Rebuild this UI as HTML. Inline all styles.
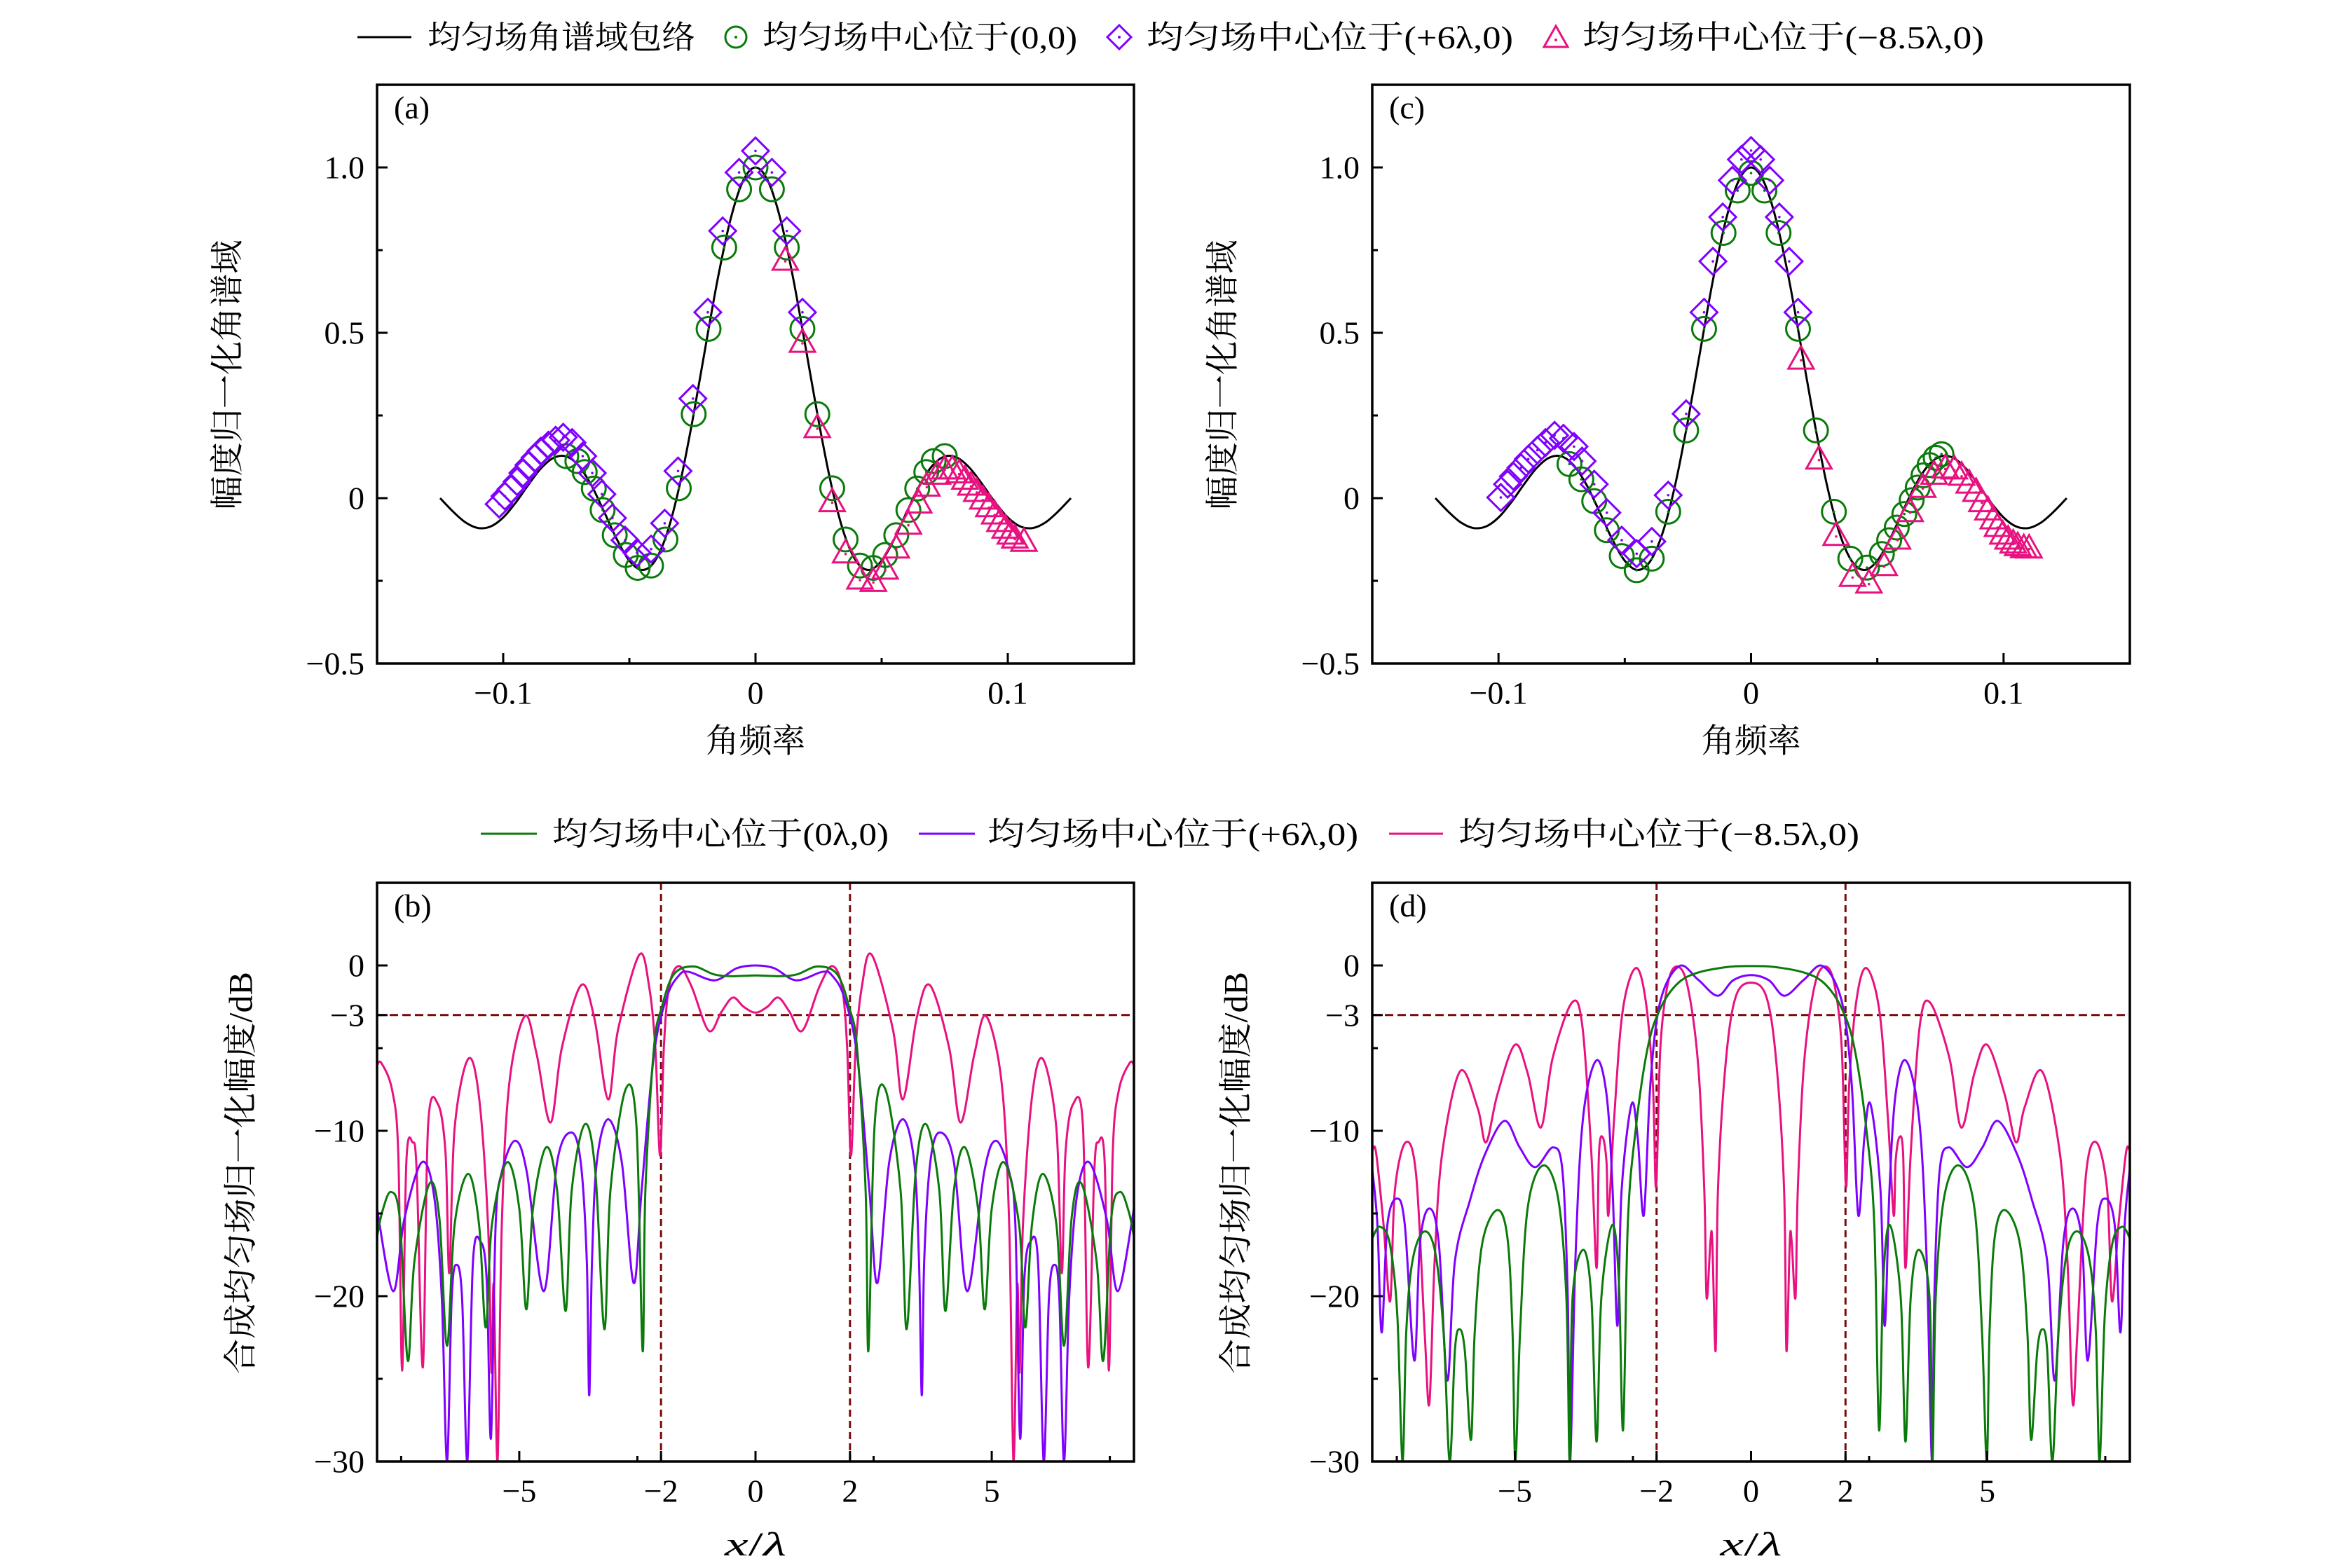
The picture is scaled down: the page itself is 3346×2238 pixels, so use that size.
<!DOCTYPE html>
<html><head><meta charset="utf-8"><style>
html,body{margin:0;padding:0;background:#fff;}
svg{display:block;}
text{font-family:"Liberation Serif","Noto Serif CJK SC","Noto Sans CJK SC",serif;fill:#000;}
</style></head><body>
<svg id="fig" xmlns="http://www.w3.org/2000/svg" width="3346" height="2238" viewBox="0 0 3346 2238">
<rect width="3346" height="2238" fill="#fff"/>
<g>
  <line x1="510" y1="53" x2="587" y2="53" stroke="#000" stroke-width="3"/>
  <text x="610" y="69" font-size="46" textLength="382" lengthAdjust="spacingAndGlyphs">均匀场角谱域包络</text>
  <circle cx="1050" cy="53" r="15" fill="none" stroke="#0a7a0a" stroke-width="3"/><circle cx="1050" cy="53" r="2" fill="#0a7a0a"/>
  <text x="1088" y="69" font-size="46" textLength="449" lengthAdjust="spacingAndGlyphs">均匀场中心位于(0,0)</text>
  <path d="M1597 36 L1614 53 L1597 70 L1580 53 Z" fill="none" stroke="#7f00ff" stroke-width="3"/><circle cx="1597" cy="53" r="2" fill="#7f00ff"/>
  <text x="1636" y="69" font-size="46" textLength="523" lengthAdjust="spacingAndGlyphs">均匀场中心位于(+6λ,0)</text>
  <path d="M2220 37 L2237 67 L2203 67 Z" fill="none" stroke="#e8117f" stroke-width="3"/><circle cx="2220" cy="57" r="2" fill="#e8117f"/>
  <text x="2258" y="69" font-size="46" textLength="573" lengthAdjust="spacingAndGlyphs">均匀场中心位于(−8.5λ,0)</text>
</g>
<g>
  <line x1="686" y1="1190" x2="766" y2="1190" stroke="#0a7a0a" stroke-width="3"/>
  <text x="788" y="1206" font-size="46" textLength="480" lengthAdjust="spacingAndGlyphs">均匀场中心位于(0λ,0)</text>
  <line x1="1311" y1="1190" x2="1391" y2="1190" stroke="#7f00ff" stroke-width="3"/>
  <text x="1409" y="1206" font-size="46" textLength="529" lengthAdjust="spacingAndGlyphs">均匀场中心位于(+6λ,0)</text>
  <line x1="1982" y1="1190" x2="2059" y2="1190" stroke="#e8117f" stroke-width="3"/>
  <text x="2081" y="1206" font-size="46" textLength="572" lengthAdjust="spacingAndGlyphs">均匀场中心位于(−8.5λ,0)</text>
</g>
</svg>
<script>
// ---------- data ----------
const envX = [-0.125,-0.12,-0.115,-0.11,-0.105,-0.1,-0.095,-0.09,-0.085,-0.08,-0.075,-0.07,-0.065,-0.06,-0.055,-0.05,-0.045,-0.04,-0.035,-0.03,-0.025,-0.02,-0.015,-0.01,-0.005,0,0.005,0.01,0.015,0.02,0.025,0.03,0.035,0.04,0.045,0.05,0.055,0.06,0.065,0.07,0.075,0.08,0.085,0.09,0.095,0.1,0.105,0.11,0.115,0.12,0.125];
const envY = [0,-0.0399,-0.073,-0.0902,-0.0857,-0.0585,-0.0131,0.0407,0.0902,0.1221,0.1261,0.0973,0.0381,-0.0412,-0.1238,-0.1892,-0.2171,-0.1916,-0.1046,0.0415,0.234,0.45,0.662,0.84,0.958,1,0.958,0.84,0.662,0.45,0.234,0.0415,-0.1046,-0.1916,-0.2171,-0.1892,-0.1238,-0.0412,0.0381,0.0973,0.1261,0.1221,0.0902,0.0407,-0.0131,-0.0585,-0.0857,-0.0902,-0.073,-0.0399,0];

const aGreen = [[-0.075,0.127],[-0.0706,0.112],[-0.0677,0.079],[-0.0641,0.029],[-0.0606,-0.036],[-0.0558,-0.112],[-0.0514,-0.172],[-0.0467,-0.211],[-0.0414,-0.204],[-0.0357,-0.125],[-0.0304,0.03],[-0.0245,0.254],[-0.0186,0.512],[-0.0124,0.758],[-0.0065,0.934],[0,1.0],[0.0065,0.934],[0.0124,0.758],[0.0186,0.512],[0.0245,0.254],[0.0304,0.03],[0.0357,-0.125],[0.0414,-0.204],[0.0467,-0.211],[0.0514,-0.172],[0.0558,-0.112],[0.0606,-0.036],[0.0641,0.029],[0.0677,0.079],[0.0706,0.112],[0.075,0.127]];
const aPurple = [[-0.1016,-0.018],[-0.0993,0.006],[-0.0969,0.027],[-0.0945,0.05],[-0.0922,0.076],[-0.0898,0.1],[-0.0874,0.122],[-0.0851,0.142],[-0.0821,0.16],[-0.0792,0.175],[-0.0762,0.184],[-0.0727,0.168],[-0.0685,0.127],[-0.0647,0.076],[-0.0609,0.012],[-0.0567,-0.06],[-0.0517,-0.127],[-0.047,-0.165],[-0.0414,-0.154],[-0.036,-0.076],[-0.0307,0.082],[-0.0248,0.301],[-0.0189,0.562],[-0.013,0.808],[-0.0065,0.985],[0,1.05],[0.0065,0.985],[0.0124,0.808],[0.0186,0.562]];
const aPink = [[0.0118,0.716],[0.0186,0.468],[0.0245,0.21],[0.0304,-0.014],[0.0357,-0.169],[0.0414,-0.248],[0.0467,-0.255],[0.0514,-0.218],[0.0558,-0.154],[0.0606,-0.082],[0.0647,-0.018],[0.0679,0.033],[0.0721,0.069],[0.075,0.085],[0.078,0.085],[0.0807,0.073],[0.083,0.054],[0.0854,0.036],[0.0877,0.017],[0.0901,-0.006],[0.0925,-0.029],[0.0948,-0.051],[0.0969,-0.074],[0.099,-0.094],[0.101,-0.112],[0.1028,-0.124],[0.1064,-0.134]];

const cGreen = [[-0.0719,0.103],[-0.0672,0.057],[-0.0621,-0.009],[-0.0571,-0.097],[-0.0512,-0.175],[-0.0453,-0.218],[-0.0393,-0.183],[-0.0328,-0.041],[-0.0257,0.205],[-0.0186,0.512],[-0.0109,0.802],[-0.0053,0.93],[0,0.983],[0.0053,0.93],[0.0109,0.802],[0.0186,0.512],[0.0257,0.205],[0.0328,-0.041],[0.0393,-0.183],[0.0459,-0.21],[0.0518,-0.169],[0.0547,-0.127],[0.0577,-0.089],[0.0607,-0.048],[0.0636,-0.006],[0.066,0.032],[0.0683,0.069],[0.0707,0.1],[0.0731,0.122],[0.0754,0.133]];
const cPurple = [[-0.0991,0.002],[-0.0964,0.042],[-0.0941,0.066],[-0.0911,0.092],[-0.0882,0.118],[-0.0846,0.145],[-0.0814,0.168],[-0.0778,0.19],[-0.0743,0.181],[-0.0701,0.156],[-0.0669,0.112],[-0.0621,0.042],[-0.0571,-0.044],[-0.0512,-0.127],[-0.0453,-0.168],[-0.0393,-0.131],[-0.0328,0.009],[-0.0257,0.255],[-0.0186,0.562],[-0.0151,0.716],[-0.0112,0.85],[-0.0074,0.961],[-0.0038,1.024],[0,1.051],[0.0038,1.024],[0.0074,0.961],[0.0112,0.85],[0.0151,0.716],[0.0186,0.562]];
const cPink = [[0.0198,0.417],[0.0269,0.115],[0.0337,-0.116],[0.0402,-0.24],[0.0467,-0.26],[0.0527,-0.207],[0.058,-0.127],[0.063,-0.044],[0.068,0.029],[0.0725,0.069],[0.0769,0.088],[0.0805,0.085],[0.0834,0.066],[0.0864,0.042],[0.0891,0.017],[0.0914,-0.014],[0.0938,-0.039],[0.0959,-0.066],[0.0976,-0.089],[0.0997,-0.112],[0.1018,-0.127],[0.1038,-0.139],[0.1056,-0.147],[0.108,-0.153],[0.1101,-0.154]];

const bGreen = [[-8.01,-16.4],[-7.9,-14.9],[-7.72,-13.7],[-7.53,-15.3],[-7.36,-23.9],[-7.22,-17.9],[-6.9,-13.2],[-6.69,-15.3],[-6.53,-23.0],[-6.37,-15.7],[-6.08,-12.6],[-5.85,-15.7],[-5.71,-21.9],[-5.58,-15.7],[-5.26,-11.9],[-5.0,-14.7],[-4.85,-20.8],[-4.71,-14.7],[-4.43,-11.0],[-4.2,-13.6],[-4.02,-20.9],[-3.89,-13.6],[-3.61,-9.6],[-3.39,-12.5],[-3.2,-22.0],[-3.07,-13.6],[-2.75,-7.5],[-2.52,-9.7],[-2.39,-23.3],[-2.33,-13.6],[-2.15,-5.0],[-1.99,-2.6],[-1.73,-0.54],[-1.32,-0.06],[-0.88,-0.54],[-0.51,-0.65],[0,-0.6],[0.51,-0.65],[0.88,-0.54],[1.32,-0.06],[1.73,-0.54],[1.99,-2.6],[2.15,-5.0],[2.33,-13.6],[2.39,-23.3],[2.52,-9.7],[2.75,-7.5],[3.07,-13.6],[3.2,-22.0],[3.39,-12.5],[3.61,-9.6],[3.89,-13.6],[4.02,-20.9],[4.2,-13.6],[4.43,-11.0],[4.71,-14.7],[4.85,-20.8],[5.0,-14.7],[5.26,-11.9],[5.58,-15.7],[5.71,-21.9],[5.85,-15.7],[6.08,-12.6],[6.37,-15.7],[6.53,-23.0],[6.69,-15.3],[6.9,-13.2],[7.22,-17.9],[7.36,-23.9],[7.53,-15.3],[7.72,-13.7],[7.9,-14.9],[8.01,-16.4]];
const bPurple = [[-8.01,-14.7],[-7.67,-19.7],[-7.43,-15.3],[-7.06,-11.9],[-6.8,-14.0],[-6.64,-20.1],[-6.53,-30],[-6.43,-20.1],[-6.33,-18.1],[-6.21,-20.1],[-6.1,-30],[-5.98,-17.9],[-5.82,-16.7],[-5.69,-19.0],[-5.6,-28.6],[-5.5,-15.7],[-5.37,-12.5],[-5.09,-10.6],[-4.84,-12.5],[-4.48,-19.7],[-4.2,-11.9],[-3.9,-10.1],[-3.7,-11.9],[-3.57,-17.9],[-3.52,-26.0],[-3.46,-17.9],[-3.36,-11.9],[-3.12,-9.3],[-2.83,-11.9],[-2.58,-19.2],[-2.41,-13.6],[-2.15,-5.4],[-1.88,-1.94],[-1.62,-0.6],[-1.41,-0.39],[-0.86,-0.9],[-0.4,-0.17],[0,0],[0.4,-0.17],[0.86,-0.9],[1.41,-0.39],[1.62,-0.6],[1.88,-1.94],[2.15,-5.4],[2.41,-13.6],[2.58,-19.2],[2.83,-11.9],[3.12,-9.3],[3.36,-11.9],[3.46,-17.9],[3.52,-26.0],[3.57,-17.9],[3.7,-11.9],[3.9,-10.1],[4.2,-11.9],[4.48,-19.7],[4.84,-12.5],[5.09,-10.6],[5.37,-12.5],[5.5,-15.7],[5.6,-28.6],[5.69,-19.0],[5.82,-16.7],[5.98,-17.9],[6.1,-30],[6.21,-20.1],[6.33,-18.1],[6.43,-20.1],[6.53,-30],[6.64,-20.1],[6.8,-14.0],[7.06,-11.9],[7.43,-15.3],[7.67,-19.7],[8.01,-14.7]];
const bPink = [[-8.01,-6.04],[-7.92,-5.9],[-7.69,-7.55],[-7.56,-11.4],[-7.48,-24.5],[-7.39,-11.9],[-7.26,-10.7],[-7.17,-12.5],[-7.04,-24.3],[-6.93,-9.7],[-6.72,-8.4],[-6.56,-11.4],[-6.48,-18.6],[-6.37,-9.9],[-6.08,-5.65],[-5.85,-8.0],[-5.66,-15.7],[-5.59,-24.6],[-5.54,-19.3],[-5.46,-30],[-5.37,-15.7],[-5.21,-7.1],[-4.88,-3.06],[-4.63,-5.4],[-4.34,-9.5],[-4.1,-5.0],[-3.69,-1.19],[-3.41,-3.2],[-3.12,-8.1],[-2.91,-3.9],[-2.46,0.65],[-2.25,-1.3],[-2.12,-5.0],[-2.02,-11.5],[-1.94,-5.0],[-1.83,-1.3],[-1.62,-0.04],[-1.35,-1.3],[-0.99,-3.95],[-0.72,-2.8],[-0.48,-1.94],[-0.25,-2.5],[0,-2.85],[0.25,-2.5],[0.48,-1.94],[0.72,-2.8],[0.99,-3.95],[1.35,-1.3],[1.62,-0.04],[1.83,-1.3],[1.94,-5.0],[2.02,-11.5],[2.12,-5.0],[2.25,-1.3],[2.46,0.65],[2.91,-3.9],[3.12,-8.1],[3.41,-3.2],[3.69,-1.19],[4.1,-5.0],[4.34,-9.5],[4.63,-5.4],[4.88,-3.06],[5.21,-7.1],[5.37,-15.7],[5.46,-30],[5.54,-19.3],[5.59,-24.6],[5.66,-15.7],[5.85,-8.0],[6.08,-5.65],[6.37,-9.9],[6.48,-18.6],[6.56,-11.4],[6.72,-8.4],[6.93,-9.7],[7.04,-24.3],[7.17,-12.5],[7.26,-10.7],[7.39,-11.9],[7.48,-24.5],[7.56,-11.4],[7.69,-7.55],[7.92,-5.9],[8.01,-6.04]];

const dGreen = [[-8.02,-16.5],[-7.86,-15.8],[-7.65,-16.8],[-7.49,-21.1],[-7.38,-30],[-7.3,-22.2],[-7.17,-17.9],[-6.93,-16.1],[-6.69,-17.3],[-6.51,-22.2],[-6.38,-30],[-6.27,-23.3],[-6.17,-22.0],[-6.06,-23.3],[-5.93,-28.7],[-5.85,-22.2],[-5.69,-16.8],[-5.38,-14.8],[-5.16,-16.4],[-5.05,-22.2],[-4.99,-30],[-4.89,-22.2],[-4.73,-14.7],[-4.41,-12.1],[-4.09,-14.0],[-3.91,-20.1],[-3.84,-30],[-3.78,-20.1],[-3.55,-17.2],[-3.38,-20.1],[-3.27,-28.8],[-3.17,-20.1],[-2.94,-15.7],[-2.8,-19.0],[-2.71,-28.1],[-2.61,-15.7],[-2.45,-10.1],[-2.19,-5.0],[-1.92,-2.6],[-1.55,-1.08],[-1.12,-0.43],[-0.49,-0.09],[0,-0.04],[0.49,-0.09],[1.12,-0.43],[1.55,-1.08],[1.92,-2.6],[2.19,-5.0],[2.45,-10.1],[2.61,-15.7],[2.71,-28.1],[2.8,-19.0],[2.94,-15.7],[3.17,-20.1],[3.27,-28.8],[3.38,-20.1],[3.55,-17.2],[3.78,-20.1],[3.84,-30],[3.91,-20.1],[4.09,-14.0],[4.41,-12.1],[4.73,-14.7],[4.89,-22.2],[4.99,-30],[5.05,-22.2],[5.16,-16.4],[5.38,-14.8],[5.69,-16.8],[5.85,-22.2],[5.93,-28.7],[6.06,-23.3],[6.17,-22.0],[6.27,-23.3],[6.38,-30],[6.51,-22.2],[6.69,-17.3],[6.93,-16.1],[7.17,-17.9],[7.3,-22.2],[7.38,-30],[7.49,-21.1],[7.65,-16.8],[7.86,-15.8],[8.02,-16.5]];
const dPurple = [[-8.02,-12.3],[-7.91,-15.7],[-7.82,-22.2],[-7.7,-15.7],[-7.5,-14.1],[-7.33,-15.7],[-7.13,-23.9],[-7.01,-16.8],[-6.81,-14.7],[-6.61,-16.8],[-6.43,-25.1],[-6.27,-17.9],[-5.95,-14.2],[-5.63,-11.4],[-5.22,-9.4],[-4.9,-11.0],[-4.57,-12.2],[-4.19,-11.0],[-3.99,-12.5],[-3.88,-20.1],[-3.83,-30],[-3.72,-17.9],[-3.56,-9.3],[-3.28,-5.76],[-3.06,-7.8],[-2.93,-13.6],[-2.83,-21.8],[-2.74,-13.6],[-2.53,-8.4],[-2.4,-10.4],[-2.27,-15.1],[-2.13,-7.1],[-1.92,-2.16],[-1.52,-0.04],[-1.12,-0.86],[-0.71,-1.83],[-0.38,-0.9],[0,-0.58],[0.38,-0.9],[0.71,-1.83],[1.12,-0.86],[1.52,-0.04],[1.92,-2.16],[2.13,-7.1],[2.27,-15.1],[2.4,-10.4],[2.53,-8.4],[2.74,-13.6],[2.83,-21.8],[2.93,-13.6],[3.06,-7.8],[3.28,-5.76],[3.56,-9.3],[3.72,-17.9],[3.83,-30],[3.88,-20.1],[3.99,-12.5],[4.19,-11.0],[4.57,-12.2],[4.9,-11.0],[5.22,-9.4],[5.63,-11.4],[5.95,-14.2],[6.27,-17.9],[6.43,-25.1],[6.61,-16.8],[6.81,-14.7],[7.01,-16.8],[7.13,-23.9],[7.33,-15.7],[7.5,-14.1],[7.7,-15.7],[7.82,-22.2],[7.91,-15.7],[8.02,-12.3]];
const dPink = [[-8.02,-11.2],[-7.94,-11.3],[-7.78,-15.7],[-7.64,-20.3],[-7.54,-13.6],[-7.31,-10.7],[-7.09,-12.7],[-6.91,-22.2],[-6.81,-26.5],[-6.7,-17.9],[-6.54,-11.4],[-6.16,-6.4],[-5.79,-8.6],[-5.61,-10.7],[-5.37,-7.8],[-5.0,-4.8],[-4.73,-6.5],[-4.45,-9.8],[-4.2,-5.6],[-3.79,-2.24],[-3.57,-3.7],[-3.38,-11.4],[-3.27,-18.3],[-3.22,-11.4],[-3.14,-10.4],[-3.06,-11.9],[-3.02,-15.1],[-2.9,-9.3],[-2.72,-2.8],[-2.45,-0.17],[-2.24,-1.94],[-2.08,-7.1],[-2.01,-13.4],[-1.92,-5.0],[-1.76,-1.08],[-1.56,-0.06],[-1.34,-1.3],[-1.12,-6.0],[-0.99,-13.6],[-0.94,-20.1],[-0.86,-16.7],[-0.82,-16.7],[-0.75,-23.3],[-0.7,-13.6],[-0.54,-6.0],[-0.33,-1.94],[0,-1.04],[0.33,-1.94],[0.54,-6.0],[0.7,-13.6],[0.75,-23.3],[0.82,-16.7],[0.86,-16.7],[0.94,-20.1],[0.99,-13.6],[1.12,-6.0],[1.34,-1.3],[1.56,-0.06],[1.76,-1.08],[1.92,-5.0],[2.01,-13.4],[2.08,-7.1],[2.24,-1.94],[2.45,-0.17],[2.72,-2.8],[2.9,-9.3],[3.02,-15.1],[3.06,-11.9],[3.14,-10.4],[3.22,-11.4],[3.27,-18.3],[3.38,-11.4],[3.57,-3.7],[3.79,-2.24],[4.2,-5.6],[4.45,-9.8],[4.73,-6.5],[5.0,-4.8],[5.37,-7.8],[5.61,-10.7],[5.79,-8.6],[6.16,-6.4],[6.54,-11.4],[6.7,-17.9],[6.81,-26.5],[6.91,-22.2],[7.09,-12.7],[7.31,-10.7],[7.54,-13.6],[7.64,-20.3],[7.78,-15.7],[7.94,-11.3],[8.02,-11.2]];

const specYTicks = [-0.5,0,0.5,1.0];
const specYTickLabels = ["−0.5","0","0.5","1.0"];
const specYMinor = [-0.25,0.25,0.75];
const specXTicks = [-0.1,0,0.1];
const specXTickLabels = ["−0.1","0","0.1"];
const specXMinor = [-0.05,0.05];
const dbYTicks = [0,-3,-10,-20,-30];
const dbYTickLabels = ["0","−3","−10","−20","−30"];
const dbYMinor = [-5,-15,-25];
const dbXTicks = [-5,-2,0,2,5];
const dbXTickLabels = ["−5","−2","0","2","5"];
const dbXMinor = [-7.5,-2.5,2.5,7.5];
const dashX = [-2,2];
const dashY = [-3];

// ---------- drawing ----------
const NS = "http://www.w3.org/2000/svg";
const svg = document.getElementById('fig');
const GREEN = "#0a7a0a", PURPLE = "#7f00ff", PINK = "#e8117f", DASH = "#7a0a0a";
function el(tag, attrs, parent) {
  const e = document.createElementNS(NS, tag);
  for (const k in attrs) e.setAttribute(k, attrs[k]);
  (parent || svg).appendChild(e);
  return e;
}
function mkPanel(id, x0, x1, y0, y1, xd, yd) {
  const p = {id, x0, x1, y0, y1, xd, yd};
  p.sx = v => x0 + (v - xd[0]) / (xd[1] - xd[0]) * (x1 - x0);
  p.sy = v => y1 - (v - yd[0]) / (yd[1] - yd[0]) * (y1 - y0);
  const g = el('g', {});
  
  
  p.g = g;
  const defs = el('defs', {}, g);
  const cp = el('clipPath', {id: 'clip-' + id}, defs);
  el('rect', {x: x0, y: y0, width: x1 - x0, height: y1 - y0}, cp);
  p.plot = el('g', {'clip-path': 'url(#clip-' + id + ')'}, g);
  
  
  return p;
}
function spline(pts) {
  let d = 'M' + pts[0][0].toFixed(1) + ' ' + pts[0][1].toFixed(1);
  for (let i = 0; i < pts.length - 1; i++) {
    const p0 = pts[Math.max(0, i - 1)], p1 = pts[i], p2 = pts[i + 1], p3 = pts[Math.min(pts.length - 1, i + 2)];
    const c1x = p1[0] + (p2[0] - p0[0]) / 6, c1y = p1[1] + (p2[1] - p0[1]) / 6;
    const c2x = p2[0] - (p3[0] - p1[0]) / 6, c2y = p2[1] - (p3[1] - p1[1]) / 6;
    d += 'C' + c1x.toFixed(1) + ' ' + c1y.toFixed(1) + ' ' + c2x.toFixed(1) + ' ' + c2y.toFixed(1) + ' ' + p2[0].toFixed(1) + ' ' + p2[1].toFixed(1);
  }
  return d;
}
function drawLine(p, pairs, color, name, width) {
  const pts = pairs.map(q => [p.sx(q[0]), p.sy(q[1])]);
  const path = el('path', {d: spline(pts), fill: 'none', stroke: color, 'stroke-width': width || 3, 'stroke-linejoin': 'round'}, p.plot);
  
  
}
function drawEnvelope(p, name) {
  const pts = envX.map((x, i) => [p.sx(x), p.sy(envY[i])]);
  const path = el('path', {d: spline(pts), fill: 'none', stroke: '#000', 'stroke-width': 3}, p.plot);
  
  
}
function drawMarkers(p, pairs, kind, color, name) {
  const g = el('g', {}, p.plot);
  
  
  pairs.forEach(q => {
    const cx = p.sx(q[0]), cy = p.sy(q[1]);
    let m;
    if (kind === 'circle') m = el('circle', {cx, cy, r: 17, fill: 'none', stroke: color, 'stroke-width': 3}, g);
    else if (kind === 'diamond') m = el('path', {d: `M${cx} ${cy-19}L${cx+19} ${cy}L${cx} ${cy+19}L${cx-19} ${cy}Z`, fill: 'none', stroke: color, 'stroke-width': 3}, g);
    else m = el('path', {d: `M${cx} ${cy-20}L${cx+18} ${cy+12}L${cx-18} ${cy+12}Z`, fill: 'none', stroke: color, 'stroke-width': 3}, g);
    
    
    el('circle', {cx, cy, r: 1.8, fill: color}, g);
  });
}
function drawAxes(p, yT, yL, yM, xT, xL, xM, letter) {
  const g = p.g;
  yT.forEach((v, i) => {
    const y = p.sy(v);
    el('line', {x1: p.x0, y1: y, x2: p.x0 + 15, y2: y, stroke: '#000', 'stroke-width': 3}, g);
    const t = el('text', {x: p.x0 - 18, y: y, 'font-size': 46, 'text-anchor': 'end', 'dominant-baseline': 'central'}, g);
    t.textContent = yL[i];
    
    
  });
  yM.forEach(v => { const y = p.sy(v); el('line', {x1: p.x0, y1: y, x2: p.x0 + 8, y2: y, stroke: '#000', 'stroke-width': 3}, g); });
  xT.forEach((v, i) => {
    const x = p.sx(v);
    el('line', {x1: x, y1: p.y1, x2: x, y2: p.y1 - 15, stroke: '#000', 'stroke-width': 3}, g);
    const t = el('text', {x: x, y: p.y1 + 42, 'font-size': 46, 'text-anchor': 'middle', 'dominant-baseline': 'central'}, g);
    t.textContent = xL[i];
    
    
  });
  xM.forEach(v => { const x = p.sx(v); el('line', {x1: x, y1: p.y1, x2: x, y2: p.y1 - 8, stroke: '#000', 'stroke-width': 3}, g); });
  const fr = el('rect', {x: p.x0, y: p.y0, width: p.x1 - p.x0, height: p.y1 - p.y0, fill: 'none', stroke: '#000', 'stroke-width': 3.5}, g);
  
  
  const lt = el('text', {x: p.x0 + 24, y: p.y0 + 48, 'font-size': 46}, g);
  lt.textContent = letter;
  
  
}
function axisTitles(p, ylab, ylen, ycx, ycy, xlabNode, xlen, xcy) {
  const t = el('text', {x: 0, y: 0, 'font-size': 48, 'text-anchor': 'middle', 'dominant-baseline': 'central', transform: `translate(${ycx},${ycy}) rotate(-90)`, textLength: ylen, lengthAdjust: 'spacingAndGlyphs'}, p.g);
  t.textContent = ylab;
  
  
  const x = el('text', {x: (p.x0 + p.x1) / 2, y: xcy, 'font-size': 48, 'text-anchor': 'middle', 'dominant-baseline': 'central', textLength: xlen, lengthAdjust: 'spacingAndGlyphs'}, p.g);
  
  
  if (xlabNode === 'xl') {
    const a = el('tspan', {'font-style': 'italic'}, x); a.textContent = 'x';
    const b = el('tspan', {}, x); b.textContent = '/';
    const c = el('tspan', {'font-style': 'italic'}, x); c.textContent = 'λ';
  } else x.textContent = xlabNode;
}
function dashes(p) {
  dashX.forEach(v => {
    const l = el('line', {x1: p.sx(v), y1: p.y0, x2: p.sx(v), y2: p.y1, stroke: DASH, 'stroke-width': 3, 'stroke-dasharray': '10 6'}, p.plot);
    
    
  });
  dashY.forEach(v => {
    const l = el('line', {x1: p.x0, y1: p.sy(v), x2: p.x1, y2: p.sy(v), stroke: DASH, 'stroke-width': 3, 'stroke-dasharray': '12 6'}, p.plot);
    
    
  });
}

const A = mkPanel('a', 538, 1618, 121, 947, [-0.15, 0.15], [-0.5, 1.25]);
drawEnvelope(A, 'envelope-a');
drawMarkers(A, aGreen, 'circle', GREEN, 'series-center-0-a');
drawMarkers(A, aPurple, 'diamond', PURPLE, 'series-plus6-a');
drawMarkers(A, aPink, 'triangle', PINK, 'series-minus85-a');
drawAxes(A, specYTicks, specYTickLabels, specYMinor, specXTicks, specXTickLabels, specXMinor, '(a)');
axisTitles(A, '幅度归一化角谱域', 385, 325, 535, '角频率', 142, 1058);

const C = mkPanel('c', 1958, 3039, 121, 947, [-0.15, 0.15], [-0.5, 1.25]);
drawEnvelope(C, 'envelope-c');
drawMarkers(C, cGreen, 'circle', GREEN, 'series-center-0-c');
drawMarkers(C, cPurple, 'diamond', PURPLE, 'series-plus6-c');
drawMarkers(C, cPink, 'triangle', PINK, 'series-minus85-c');
drawAxes(C, specYTicks, specYTickLabels, specYMinor, specXTicks, specXTickLabels, specXMinor, '(c)');
axisTitles(C, '幅度归一化角谱域', 385, 1745, 535, '角频率', 142, 1058);

const B = mkPanel('b', 538, 1618, 1260, 2086, [-8.01, 8.01], [-30, 5]);
dashes(B);
drawLine(B, bPink, PINK, 'line-minus85-b');
drawLine(B, bPurple, PURPLE, 'line-plus6-b');
drawLine(B, bGreen, GREEN, 'line-center-0-b');
drawAxes(B, dbYTicks, dbYTickLabels, dbYMinor, dbXTicks, dbXTickLabels, dbXMinor, '(b)');
axisTitles(B, '合成均匀场归一化幅度/dB', 574, 344, 1674, 'xl', 88, 2204);

const D = mkPanel('d', 1958, 3039, 1260, 2086, [-8.02, 8.02], [-30, 5]);
dashes(D);
drawLine(D, dPink, PINK, 'line-minus85-d');
drawLine(D, dPurple, PURPLE, 'line-plus6-d');
drawLine(D, dGreen, GREEN, 'line-center-0-d');
drawAxes(D, dbYTicks, dbYTickLabels, dbYMinor, dbXTicks, dbXTickLabels, dbXMinor, '(d)');
axisTitles(D, '合成均匀场归一化幅度/dB', 574, 1764, 1674, 'xl', 88, 2204);
</script>
</body></html>
